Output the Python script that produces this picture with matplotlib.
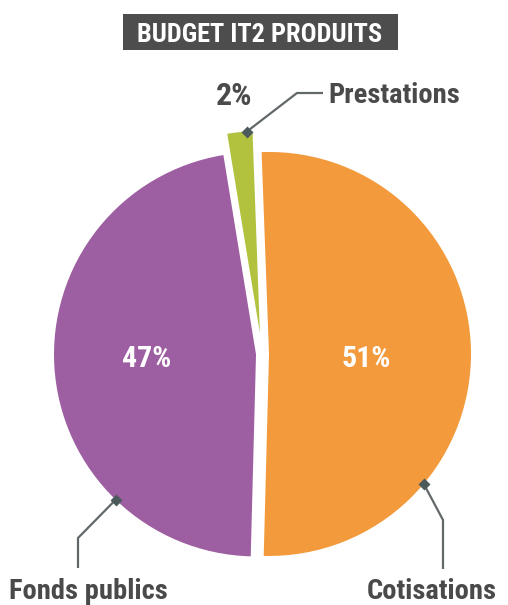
import numpy as np
import matplotlib
matplotlib.use("Agg")
import matplotlib.pyplot as plt
from matplotlib import font_manager
from matplotlib.patches import Rectangle

title = "BUDGET IT2 PRODUITS"
categories = ["Prestations", "Cotisations", "Fonds publics"]
shares = [2, 51, 47]
colors = ["#b2c23f", "#f39b3c", "#9d5fa1"]

# narrow bold face if available, otherwise Roboto
installed = {f.name for f in font_manager.fontManager.ttflist}
face = "Roboto"
for cand in ["Roboto Condensed", "Liberation Sans Narrow"]:
    if cand in installed:
        face = cand
        break
plt.rcParams["font.family"] = [face, "DejaVu Sans"]

W, H = 508, 605
dark = "#4a4a4a"
line_col = "#62686a"

fig = plt.figure(figsize=(W / 100, H / 100), dpi=100)
ax = fig.add_axes([0, 0, 1, 1])

# explode is in data units here (1 unit = 1 px)
wedges, _ = ax.pie(shares, colors=colors, startangle=99.3, counterclock=False,
                   explode=[21, 7, 6], center=(262, H - 354), radius=202,
                   wedgeprops=dict(linewidth=0), frame=True)
ax.set_xlim(0, W)
ax.set_ylim(0, H)
ax.set_aspect("equal")
ax.axis("off")


def on_wedge(w, angle, frac=1.0):
    cx, cy = w.center
    a = np.deg2rad(angle)
    return cx + frac * w.r * np.cos(a), cy + frac * w.r * np.sin(a)


# percentages inside the two large slices
for w, v, frac in [(wedges[1], shares[1], 0.48), (wedges[2], shares[2], 0.54)]:
    mid = (w.theta1 + w.theta2) / 2
    x, y = on_wedge(w, mid, frac)
    ax.text(x, H - 367, f"{v}%", color="white", fontsize=21.5, fontweight="bold",
            ha="center", va="baseline")

ax.text(252, H - 105, f"{shares[0]}%", color=dark, fontsize=23, fontweight="bold",
        ha="right", va="baseline")

# callouts: (wedge, anchor angle, elbow, end, label pos, alignment)
callouts = [
    (0, 93.7, (297, 93), (323, 93), (328, 103), "left"),
    (1, -40, (443, 520), (443, 569), (432, 599), "center"),
    (2, -134, (78, 538), (78, 568), (88, 599), "center"),
]
for i, ang, elbow, end, pos, ha in callouts:
    x0, y0 = on_wedge(wedges[i], ang)
    ax.plot([x0, elbow[0], end[0]], [y0, H - elbow[1], H - end[1]],
            color=line_col, lw=1.6, solid_capstyle="butt")
    ax.plot(x0, y0, marker="D", ms=6, color="#4d5a5c", mec="none")
    ax.text(pos[0], H - pos[1], categories[i], color=dark, fontsize=20.5,
            fontweight="bold", ha=ha, va="baseline")

# title banner
ax.add_patch(Rectangle((123, H - 50), 275, 36, color="#4d4d4d", lw=0))
ax.text(260, H - 42, title, color="white", fontsize=19, fontweight="bold",
        ha="center", va="baseline")

fig.savefig("out.png", dpi=100)
